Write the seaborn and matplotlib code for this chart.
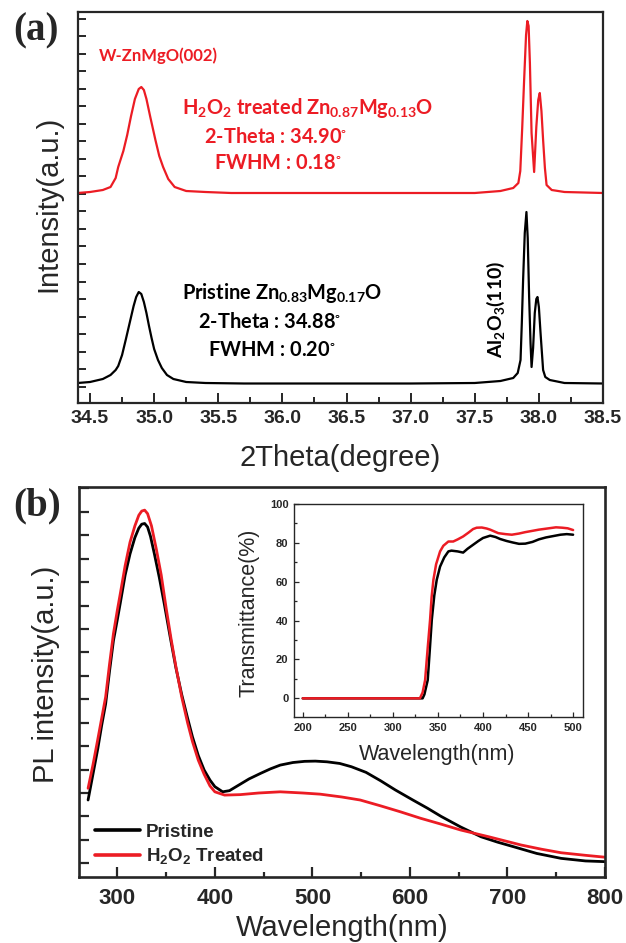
import matplotlib
matplotlib.use("Agg")
import matplotlib.pyplot as plt
import seaborn as sns
from matplotlib.ticker import FixedLocator, MultipleLocator, NullFormatter

# ---------------- data ----------------
xrd_pristine_2theta = [34.404, 34.50, 34.60, 34.66, 34.70, 34.72, 34.75, 34.78, 34.80, 34.82, 34.84,
                       34.86, 34.88, 34.90, 34.92, 34.94, 34.96, 34.98, 35.00, 35.03, 35.06, 35.10,
                       35.15, 35.25, 35.40, 35.70, 36.00, 36.50, 37.00, 37.50, 37.70, 37.80, 37.835,
                       37.857, 37.867, 37.877, 37.89, 37.903, 37.913, 37.924, 37.935, 37.943, 37.955,
                       37.968, 37.98, 37.989, 38.00, 38.013, 38.033, 38.05, 38.085, 38.20, 38.50]
xrd_pristine_int = [20, 21, 24, 28, 33, 37, 48, 64, 75, 86, 97,
                    106, 111, 109, 101, 90, 77, 65, 54, 43, 35, 28,
                    24, 21, 20, 19.5, 19.5, 19.5, 19.5, 20, 22, 25, 30,
                    43, 80, 123, 170, 191, 165, 106, 60, 36, 55,
                    90, 104, 106, 96, 70, 33, 26, 23, 20, 19.5]

xrd_treated_2theta = [34.404, 34.50, 34.60, 34.66, 34.70, 34.72, 34.76, 34.79, 34.82, 34.85, 34.88,
                      34.90, 34.92, 34.94, 34.97, 35.01, 35.04, 35.07, 35.11, 35.16, 35.25, 35.40,
                      35.60, 36.00, 36.50, 37.00, 37.50, 37.60, 37.70, 37.80, 37.84, 37.855, 37.87,
                      37.885, 37.90, 37.91, 37.92, 37.93, 37.943, 37.963, 37.98, 37.995, 38.007,
                      38.02, 38.033, 38.047, 38.06, 38.10, 38.20, 38.50]
xrd_treated_int = [210, 211, 213, 216, 225, 236, 252, 268, 287, 304, 314,
                   316, 313, 304, 286, 263, 247, 236, 224, 216, 212, 211,
                   210, 210, 210, 210, 210, 211, 212, 215, 220, 232, 275,
                   323, 368, 382, 377, 340, 270, 231, 276, 303, 310,
                   292, 263, 235, 218, 213, 211, 210]

pl_pristine_wl = [270, 275, 280, 284, 288, 292, 296, 300, 303, 308, 313, 318, 322, 325, 328, 331, 334, 338,
                  343, 348, 354, 360, 366, 372, 377, 383, 389, 395, 400, 408, 415, 425, 435, 447,
                  457, 467, 480, 492, 503, 515, 528, 540, 555, 570, 585, 603, 618, 632, 652, 673,
                  690, 706, 730, 755, 780, 800]
pl_pristine_int = [2.7, 3.8, 4.9, 5.9, 6.8, 8.2, 9.5, 10.4, 11.1, 12.3, 13.2, 13.9, 14.3, 14.47, 14.5, 14.35, 13.95, 13.2,
                   12.2, 11.1, 9.7, 8.35, 7.2, 6.2, 5.4, 4.6, 3.98, 3.55, 3.27, 3.05, 3.1, 3.35, 3.6, 3.84,
                   4.03, 4.19, 4.3, 4.35, 4.36, 4.33, 4.26, 4.12, 3.88, 3.52, 3.13, 2.70, 2.35, 2.0, 1.55, 1.13,
                   0.9, 0.71, 0.42, 0.21, 0.1, 0.07]

pl_treated_wl = [270, 275, 280, 284, 288, 292, 296, 300, 303, 308, 313, 318, 322, 325, 328, 331, 335,
                 340, 345, 350, 355, 360, 366, 372, 377, 383, 389, 395, 400, 410, 426, 445, 467,
                 490, 508, 530, 549, 570, 590, 611, 632, 652, 681, 714, 735, 755, 780, 800]
pl_treated_int = [3.2, 4.2, 5.3, 6.2, 7.1, 8.5, 9.8, 10.8, 11.5, 12.7, 13.7, 14.4, 14.85, 15.03, 15.07, 14.92, 14.4,
                  13.4, 12.3, 10.9, 9.6, 8.4, 7.1, 6.0, 5.2, 4.4, 3.8, 3.3, 3.05, 2.91, 2.93, 3.0, 3.05,
                  3.0, 2.95, 2.83, 2.70, 2.45, 2.2, 1.92, 1.67, 1.42, 1.13, 0.78, 0.6, 0.45, 0.34, 0.26]

tr_pristine_wl = [200, 333, 335, 338.7, 341, 343.2, 346, 348.7, 352.4, 357, 361.6, 365, 372, 378, 383,
                  389, 395, 400, 408, 414, 419, 426, 433, 440, 447, 455, 462, 470, 478, 486, 493, 500]
tr_pristine_T = [0, 0, 2, 9.4, 25, 40.4, 53, 61, 67.8, 72.5, 75.6, 76, 75.6, 75, 77,
                 79, 81, 82.5, 83.7, 83, 82, 81, 80.2, 79.5, 79.6, 80.5, 81.8, 82.8, 83.5, 84.2, 84.5, 84.2]

tr_treated_wl = [200, 330, 333, 335.8, 338.5, 341.3, 343, 345, 348, 352.4, 356, 361.6, 367, 372, 378,
                 384, 389, 393, 398.7, 404, 408, 417, 425, 432, 440, 446.7, 455, 462, 470, 481, 488, 494, 500]
tr_treated_T = [0, 0, 3, 9.4, 25, 40.4, 52, 61, 69, 75.6, 78.5, 80.7, 80.7, 81.8, 83.3,
                85.3, 87.1, 87.8, 87.9, 87.4, 86.8, 85.0, 84.5, 84.2, 84.8, 85.5, 86.2, 86.8, 87.3, 88, 87.8, 87.5, 86.6]

xrd_xticks = [34.5, 35.0, 35.5, 36.0, 36.5, 37.0, 37.5, 38.0, 38.5]
xrd_xticklabels = ["34.5", "35.0", "35.5", "36.0", "36.5", "37.0", "37.5", "38.0", "38.5"]
pl_xticks = [300, 400, 500, 600, 700, 800]
inset_xticks = [200, 250, 300, 350, 400, 450, 500]
inset_yticks = [0, 20, 40, 60, 80, 100]

# ---------------- style ----------------
sns.set_style("ticks")
plt.rcParams["font.family"] = ["Liberation Sans", "DejaVu Sans"]
plt.rcParams["mathtext.default"] = "regular"

RED = "#ec1c24"
BLACK = "#000000"

fig = plt.figure(figsize=(6.26, 9.43), dpi=100)
W, H = 626.0, 943.0

def fig_rect(l, t, r, b):
    return [l / W, (H - b) / H, (r - l) / W, (b - t) / H]

ax_a = fig.add_axes(fig_rect(77.7, 12.3, 603.0, 403.0))
ax_b = fig.add_axes(fig_rect(79.3, 486.7, 605.0, 877.0))
ax_in = fig.add_axes(fig_rect(294.0, 504.0, 583.0, 717.0))

# ---------------- panel (a) ----------------
sns.lineplot(x=xrd_treated_2theta, y=xrd_treated_int, ax=ax_a, color=RED, lw=1.6,
             sort=False, estimator=None)
sns.lineplot(x=xrd_pristine_2theta, y=xrd_pristine_int, ax=ax_a, color=BLACK, lw=1.6,
             sort=False, estimator=None)
ax_a.set_xlim(34.404, 38.5)
ax_a.set_ylim(0, 390.7)
ax_a.xaxis.set_major_locator(FixedLocator(xrd_xticks))
ax_a.set_xticklabels(xrd_xticklabels)
ax_a.xaxis.set_minor_locator(MultipleLocator(0.25))
ax_a.yaxis.set_major_locator(FixedLocator([16.5 + 17.5 * k for k in range(22)]))
ax_a.yaxis.set_major_formatter(NullFormatter())
ax_a.tick_params(axis="both", which="both", direction="in", top=False, right=False, width=1.4)
ax_a.tick_params(axis="x", which="major", length=7, pad=5, labelsize=14)
ax_a.tick_params(axis="x", which="minor", length=4)
ax_a.tick_params(axis="y", which="major", length=6)
for lab in ax_a.get_xticklabels():
    lab.set_fontweight("bold")
for sp in ax_a.spines.values():
    sp.set_linewidth(1.6)
    sp.set_visible(True)
ax_a.set_xlabel("2Theta(degree)", fontsize=21)
ax_a.xaxis.set_label_coords(0.5, -0.105)
ax_a.set_ylabel("Intensity(a.u.)", fontsize=21)
ax_a.yaxis.set_label_coords(-0.030, 0.51)

txt = dict(family=["Lato", "DejaVu Sans"], fontweight="bold", transform=ax_a.transAxes,
           ha="left", va="center")
ax_a.text(0.0405, 0.888, "W-ZnMgO(002)", color=RED, fontsize=12, **txt)
ax_a.text(0.199, 0.755, "H$_2$O$_2$ treated Zn$_{0.87}$Mg$_{0.13}$O", color=RED, fontsize=14.4, **txt)
ax_a.text(0.241, 0.681, "2-Theta : 34.90$^{\\circ}$", color=RED, fontsize=14.4, **txt)
ax_a.text(0.260, 0.614, "FWHM : 0.18$^{\\circ}$", color=RED, fontsize=14.4, **txt)
ax_a.text(0.199, 0.282, "Pristine Zn$_{0.83}$Mg$_{0.17}$O", color=BLACK, fontsize=14.4, **txt)
ax_a.text(0.229, 0.207, "2-Theta : 34.88$^{\\circ}$", color=BLACK, fontsize=14.4, **txt)
ax_a.text(0.248, 0.136, "FWHM : 0.20$^{\\circ}$", color=BLACK, fontsize=14.4, **txt)
ax_a.text(0.797, 0.241, "Al$_2$O$_3$(110)", color=BLACK, fontsize=14, rotation=90,
          family=["Lato", "DejaVu Sans"], fontweight="bold", transform=ax_a.transAxes,
          ha="center", va="center")

# ---------------- panel (b) ----------------
sns.lineplot(x=pl_pristine_wl, y=pl_pristine_int, ax=ax_b, color=BLACK, lw=2.0,
             sort=False, estimator=None, label="Pristine")
sns.lineplot(x=pl_treated_wl, y=pl_treated_int, ax=ax_b, color=RED, lw=2.0,
             sort=False, estimator=None, label="H$_2$O$_2$ Treated")
ax_b.set_xlim(261, 800)
ax_b.set_ylim(-0.585, 16.07)
ax_b.xaxis.set_major_locator(FixedLocator(pl_xticks))
ax_b.xaxis.set_minor_locator(MultipleLocator(50))
ax_b.yaxis.set_major_locator(MultipleLocator(1))
ax_b.yaxis.set_major_formatter(NullFormatter())
ax_b.tick_params(axis="both", which="both", direction="in", top=False, right=False, width=1.6)
ax_b.tick_params(axis="x", which="major", length=7, pad=8, labelsize=16)
ax_b.tick_params(axis="x", which="minor", length=3.5)
ax_b.tick_params(axis="y", which="major", length=7)
for lab in ax_b.get_xticklabels():
    lab.set_fontweight("bold")
for sp in ax_b.spines.values():
    sp.set_linewidth(1.9)
    sp.set_visible(True)
ax_b.set_xlabel("Wavelength(nm)", fontsize=21)
ax_b.xaxis.set_label_coords(0.5, -0.095)
ax_b.set_ylabel("PL intensity(a.u.)", fontsize=21)
ax_b.yaxis.set_label_coords(-0.036, 0.52)
leg = ax_b.legend(loc="upper left", bbox_to_anchor=(0.030, 0.137), frameon=False,
                  borderpad=0, borderaxespad=0, handlelength=2.4, handletextpad=0.3,
                  labelspacing=0.3, prop=dict(family="Liberation Sans", weight="bold", size=13.5))
for line in leg.get_lines():
    line.set_linewidth(2.6)

# ---------------- inset ----------------
sns.lineplot(x=tr_pristine_wl, y=tr_pristine_T, ax=ax_in, color=BLACK, lw=1.8,
             sort=False, estimator=None)
sns.lineplot(x=tr_treated_wl, y=tr_treated_T, ax=ax_in, color=RED, lw=1.8,
             sort=False, estimator=None)
ax_in.set_xlim(190.3, 511)
ax_in.set_ylim(-9.6, 100)
ax_in.xaxis.set_major_locator(FixedLocator(inset_xticks))
ax_in.xaxis.set_minor_locator(MultipleLocator(25))
ax_in.yaxis.set_major_locator(FixedLocator(inset_yticks))
ax_in.yaxis.set_minor_locator(MultipleLocator(10))
ax_in.tick_params(axis="both", which="both", direction="in", top=False, right=False, width=0.9,
                  labelsize=8, pad=4)
ax_in.tick_params(axis="both", which="major", length=3.5)
ax_in.tick_params(axis="both", which="minor", length=2)
for lab in ax_in.get_xticklabels() + ax_in.get_yticklabels():
    lab.set_fontweight("bold")
for sp in ax_in.spines.values():
    sp.set_linewidth(1.0)
    sp.set_visible(True)
ax_in.set_xlabel("Wavelength(nm)", fontsize=15.5)
ax_in.xaxis.set_label_coords(0.495, -0.125)
ax_in.set_ylabel("Transmittance(%)", fontsize=15.5)
ax_in.yaxis.set_label_coords(-0.118, 0.49)
if ax_in.get_legend() is not None:
    ax_in.get_legend().remove()
if ax_a.get_legend() is not None:
    ax_a.get_legend().remove()

# ---------------- panel letters ----------------
fig.text(13 / W, 1 - 31 / H, "(a)", family="Liberation Serif", fontweight="bold", fontsize=28,
         ha="left", va="center")
fig.text(13 / W, 1 - 506 / H, "(b)", family="Liberation Serif", fontweight="bold", fontsize=28,
         ha="left", va="center")

fig.savefig("out.png", dpi=100)
